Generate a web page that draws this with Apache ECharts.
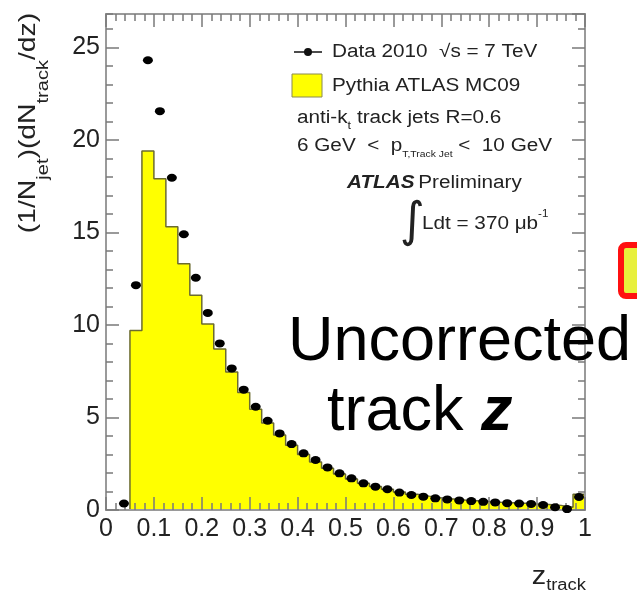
<!DOCTYPE html>
<html>
<head>
  <meta charset="utf-8">
</head>
<body style="margin: 0">
  <div id="container" style="width: 637px; height: 592px"></div>

  <script type="text/javascript" src="https://fastly.jsdelivr.net/npm/echarts@6.0.0/dist/echarts.min.js"></script>

  <script type="text/javascript">
    // 40 bins of width 0.025 between z = 0 and z = 1
    var binWidth = 0.025;
    var mcValues = [
      0, 0, 9.7, 19.4, 17.9, 15.3, 13.3, 11.6, 10.05, 8.7,
      7.45, 6.35, 5.45, 4.7, 4.05, 3.5, 3.0, 2.6, 2.25, 1.95,
      1.68, 1.45, 1.27, 1.12, 0.97, 0.85, 0.75, 0.66, 0.6, 0.54,
      0.5, 0.46, 0.42, 0.39, 0.36, 0.33, 0.3, 0.25, 0.15, 0.85
    ];
    var dataValues = [
      null, 0.35, 12.15, 24.3, 21.55, 17.95, 14.9, 12.55, 10.65, 9.0,
      7.65, 6.5, 5.58, 4.82, 4.14, 3.56, 3.06, 2.7, 2.3, 1.98,
      1.71, 1.44, 1.26, 1.12, 0.94, 0.81, 0.72, 0.63, 0.57, 0.52,
      0.48, 0.44, 0.41, 0.37, 0.35, 0.33, 0.27, 0.15, 0.05, 0.7
    ];
    var xMin = 0, xMax = 1, xStep = 0.1;
    var yMin = 0, yMax = 26.8, yStep = 5;

    var histPoints = [];
    for (var i = 0; i < mcValues.length; i++) {
      histPoints.push([i * binWidth, mcValues[i]]);
    }
    histPoints.push([mcValues.length * binWidth, mcValues[mcValues.length - 1]]);
    histPoints.push([mcValues.length * binWidth, 0]);

    var dataPoints = [];
    for (var j = 0; j < dataValues.length; j++) {
      if (dataValues[j] != null) dataPoints.push([(j + 0.5) * binWidth, dataValues[j]]);
    }

    var font = 'Liberation Sans, Arial, sans-serif';
    var frameColor = '#9a9a9a';
    var tickColor = '#7a7a7a';
    var ink = '#222';
    var stretch = 1.15; // the original plot is a bit wider than tall

    function xAxisDef(pos, labels) {
      return {
        type: 'value', position: pos, min: xMin, max: xMax, interval: xStep, z: 5,
        axisLine: { show: true, onZero: false, lineStyle: { color: frameColor, width: 2 } },
        axisTick: { show: true, inside: true, length: 13, lineStyle: { color: tickColor, width: 1.5 } },
        minorTick: { show: true, splitNumber: 5, length: 7, lineStyle: { color: tickColor, width: 1.5 } },
        axisLabel: { show: labels, fontSize: 25, color: ink, margin: 7, fontFamily: font },
        splitLine: { show: false }
      };
    }
    function yAxisDef(pos, step, len, labels) {
      return {
        type: 'value', position: pos, min: yMin, max: yMax, interval: step, z: 5,
        axisLine: { show: true, onZero: false, lineStyle: { color: frameColor, width: 2 } },
        axisTick: { show: true, inside: true, length: len, lineStyle: { color: tickColor, width: 1.5 } },
        axisLabel: { show: labels, fontSize: 25, color: ink, margin: 6, fontFamily: font, showMaxLabel: false },
        splitLine: { show: false }
      };
    }
    function tok(size, lh, va, extra) {
      return Object.assign({ fontSize: size, lineHeight: lh, verticalAlign: va, fontFamily: font, fill: ink }, extra || {});
    }

    var dom = document.getElementById('container');
    var myChart = echarts.init(dom, null, { renderer: 'canvas' });
    var option = {
      backgroundColor: '#fff',
      animation: false,
      grid: { left: 106, right: 52, top: 14, bottom: 82 },
      xAxis: [xAxisDef('bottom', true), xAxisDef('top', false)],
      yAxis: [
        yAxisDef('left', yStep, 13, true),
        yAxisDef('left', 1, 7, false),
        yAxisDef('right', yStep, 13, false),
        yAxisDef('right', 1, 7, false)
      ],
      series: [
        {
          name: 'Pythia ATLAS MC09',
          type: 'line',
          step: 'end',
          data: histPoints,
          symbol: 'none',
          lineStyle: { color: '#6b6b30', width: 1.5 },
          areaStyle: { color: '#ffff00', opacity: 1 },
          z: 2
        },
        {
          name: 'Data 2010',
          type: 'scatter',
          data: dataPoints,
          symbol: 'circle',
          symbolSize: [10, 8],
          itemStyle: { color: '#000', opacity: 1 },
          z: 6
        }
      ],
      graphic: [
        // y axis title
        {
          type: 'text', x: 28, y: 123, rotation: Math.PI / 2, scaleX: 1.18,
          style: {
            text: '{m|(1/N}{s|jet}{m|)(dN}{s|track}{m|/dz)}',
            align: 'center', verticalAlign: 'middle', fill: ink,
            rich: { m: tok(24, 48, 'middle'), s: tok(17, 17, 'bottom') }
          }
        },
        // x axis title
        {
          type: 'text', x: 586, y: 577, scaleX: stretch,
          style: {
            text: '{m|z}{s|track}',
            align: 'right', verticalAlign: 'middle', fill: ink,
            rich: { m: tok(25, 34, 'middle'), s: tok(16, 16, 'bottom') }
          }
        },
        // legend: data marker
        { type: 'line', shape: { x1: 294, y1: 52, x2: 322, y2: 52 }, style: { stroke: '#111', lineWidth: 1.5 }, z: 10 },
        { type: 'circle', shape: { cx: 308, cy: 52, r: 4 }, style: { fill: '#111' }, z: 10 },
        { type: 'text', x: 332, y: 52, z: 10, scaleX: stretch,
          style: { text: 'Data 2010  \u221As = 7 TeV', fontSize: 18, fontFamily: font, fill: ink, verticalAlign: 'middle' } },
        // legend: MC box
        { type: 'rect', shape: { x: 292, y: 74, width: 30, height: 23 }, style: { fill: '#ffff00', stroke: '#8a8a50', lineWidth: 1 }, z: 10 },
        { type: 'text', x: 332, y: 86, z: 10, scaleX: stretch,
          style: { text: 'Pythia ATLAS MC09', fontSize: 18, fontFamily: font, fill: ink, verticalAlign: 'middle' } },
        {
          type: 'text', x: 297, y: 118, z: 10, scaleX: stretch,
          style: {
            text: '{m|anti-k}{s|t}{m| track jets R=0.6}',
            verticalAlign: 'middle', fill: ink,
            rich: { m: tok(18, 26, 'middle'), s: tok(11, 11, 'bottom') }
          }
        },
        {
          type: 'text', x: 297, y: 146, z: 10, scaleX: stretch,
          style: {
            text: '{m|6 GeV  <  p}{s|T,Track Jet}{m| <  10 GeV}',
            verticalAlign: 'middle', fill: ink,
            rich: { m: tok(18, 26, 'middle'), s: tok(9, 9, 'bottom') }
          }
        },
        {
          type: 'text', x: 347, y: 183, z: 10, scaleX: stretch,
          style: {
            text: '{b|ATLAS} {m|Preliminary}',
            verticalAlign: 'middle', fill: ink,
            rich: {
              b: tok(18, 24, 'middle', { fontWeight: 'bold', fontStyle: 'italic' }),
              m: tok(18, 24, 'middle')
            }
          }
        },
        { type: 'text', x: 400, y: 224, z: 10,
          style: { text: '\u222B', fontSize: 48, fontFamily: 'DejaVu Sans', fill: ink, verticalAlign: 'middle' } },
        {
          type: 'text', x: 422, y: 224, z: 10, scaleX: stretch,
          style: {
            text: '{m|Ldt = 370 \u03BCb}{p|-1}',
            verticalAlign: 'middle', fill: ink,
            rich: { m: tok(18, 30, 'middle'), p: tok(10, 10, 'top') }
          }
        },
        // overlay annotation
        { type: 'text', x: 288, y: 343, z: 20,
          style: { text: 'Uncorrected', fontSize: 63, fontFamily: font, fill: '#000', verticalAlign: 'middle' } },
        {
          type: 'text', x: 327, y: 413, z: 20,
          style: {
            text: '{m|track }{b|z}',
            verticalAlign: 'middle', fill: '#000',
            rich: {
              m: { fontSize: 63, fontFamily: font, fill: '#000' },
              b: { fontSize: 63, fontWeight: 'bold', fontStyle: 'italic', fontFamily: font, fill: '#000' }
            }
          }
        },
        // red box at the right edge
        { type: 'rect', shape: { x: 621, y: 245, width: 40, height: 51, r: 5 },
          style: { fill: '#e8f03c', stroke: '#ff1010', lineWidth: 6 }, z: 20 }
      ]
    };

    myChart.setOption(option);
    window.addEventListener('resize', myChart.resize);
  </script>
</body>
</html>
